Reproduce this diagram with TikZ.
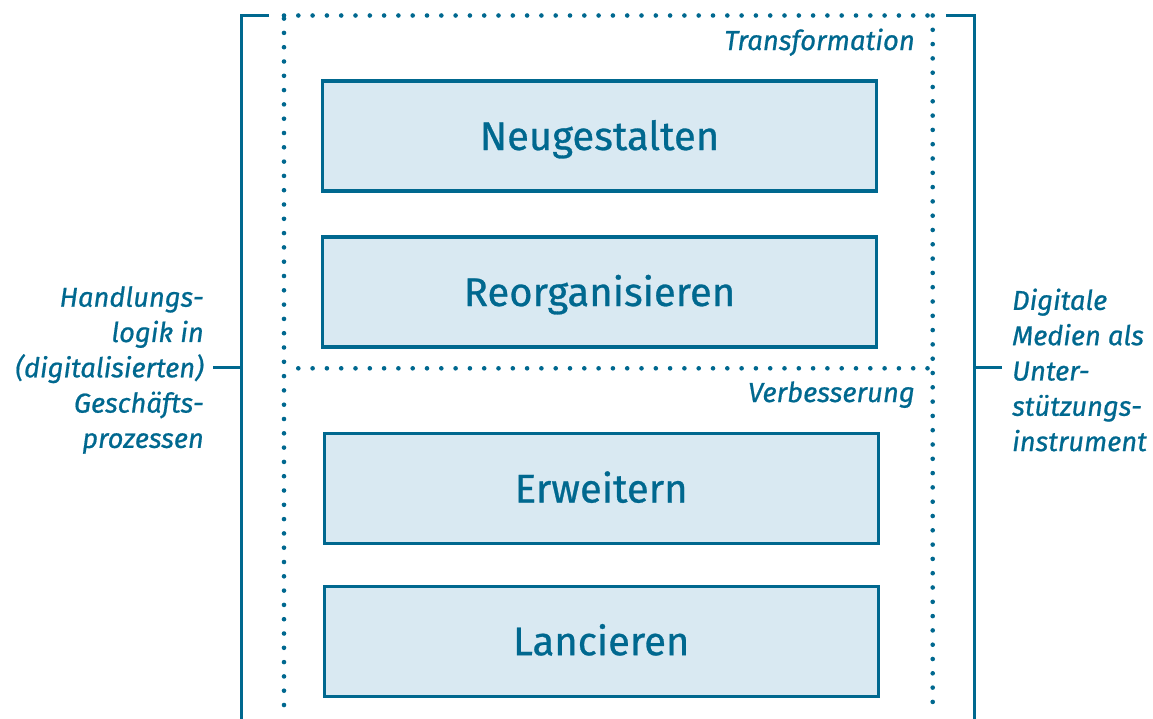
\documentclass[tikz,border=0pt]{standalone}
\usepackage{fontspec}
\setmainfont{Fira Sans}[FakeBold=0.7,ItalicFeatures={FakeBold=0.7}]
\definecolor{ink}{HTML}{00688F}
\definecolor{pale}{HTML}{D9E9F2}
\begin{document}
\begin{tikzpicture}[x=1pt,y=-1pt,
  stage/.style={draw=ink,fill=pale,line width=3.2pt,minimum width=554pt,minimum height=110pt,inner sep=0pt,text=ink,text height=28pt,text depth=0pt,font=\fontsize{40}{48}\selectfont},
  bar/.style={draw=ink,line width=3pt},
  dots/.style={draw=ink,line width=4.6pt,line cap=round,dash pattern=on 0pt off 14.3pt},
  side/.style={text=ink,inner sep=0pt,font=\fontsize{27.3}{35.3}\selectfont\itshape},
  cat/.style={text=ink,inner sep=0pt,font=\fontsize{27.5}{30}\selectfont\itshape}]
\useasboundingbox (0,0) rectangle (1153,718);
% brackets
\coordinate (ltop) at (269,15);
\coordinate (lc) at (241,15);
\coordinate (lbot) at (241,720);
\coordinate (lmid) at (241,367.5);
\coordinate (ltick) at (213,367.5);
\coordinate (rtop) at (946,15);
\coordinate (rc) at (974,15);
\coordinate (rbot) at (974,720);
\coordinate (rmid) at (974,367.5);
\coordinate (rtick) at (1002,367.5);
\draw[bar] (ltop) -- (lc) -- (lbot);
\draw[bar] (rtop) -- (rc) -- (rbot);
\draw[bar] (ltick) -- (lmid);
\draw[bar] (rtick) -- (rmid);
% dotted frame
\coordinate (d1) at (284,705);
\coordinate (d2) at (284,15.5);
\coordinate (d3) at (932.7,15.5);
\coordinate (d4) at (932.7,705);
\coordinate (m1) at (298.3,368.3);
\coordinate (m2) at (932.7,368.3);
\draw[dots] (d1) -- (d2);
\draw[dots] (d2) -- (d3);
\draw[dots] (d3) -- (d4);
\draw[dots] (m1) -- (m2);
% boxes
\node[stage] (neu) at (599.5,136) {Neugestalten};
\node[stage] (reo) at (599.5,292) {Reorganisieren};
\node[stage] (erw) at (601.2,488.5) {Erweitern};
\node[stage] (lan) at (601.2,641.2) {Lancieren};
% category labels
\node[cat,anchor=base east] (trans) at (915,50) {Transformation};
\node[cat,anchor=base east] (verb) at (915,402) {Verbesserung};
% side labels
\node[side,anchor=east,align=right] (left) at (204,370) {Handlungs-\\logik in\\(digitalisierten)\\Geschäfts-\\prozessen};
\node[side,anchor=west,align=left] (right) at (1012,370) {Digitale\\Medien als\\Unter-\\stützungs-\\instrument};
\end{tikzpicture}
\end{document}
